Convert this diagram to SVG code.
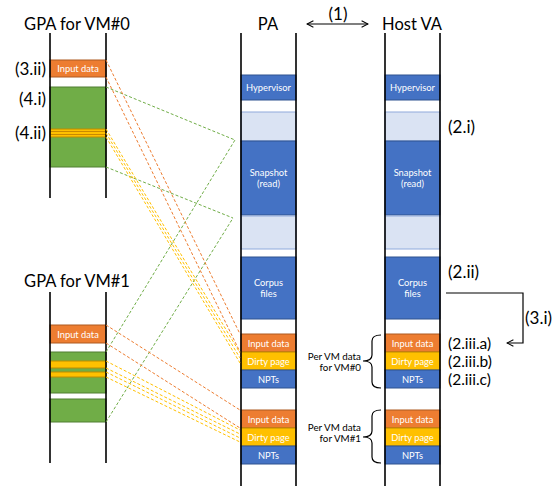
<svg xmlns="http://www.w3.org/2000/svg" width="559" height="486" viewBox="0 0 559 486">
<style>
text{font-family:Lato,"Liberation Sans",sans-serif;}
.t{font-size:16.5px;fill:#000;}
.lb{font-size:17px;fill:#000;}
.lc{font-size:15.5px;fill:#000;}
.bx{font-size:9.3px;fill:#fff;text-anchor:middle;}
.sm{font-size:9.8px;fill:#000;text-anchor:end;}
.col{stroke:#000;stroke-width:1.6;fill:none;}
.blue{fill:#4472C4;stroke:#2F528F;stroke-width:1;}
.light{fill:#DAE3F3;stroke:#8FAADC;stroke-width:1;}
.org{fill:#ED7D31;stroke:#AE5A21;stroke-width:1;}
.yel{fill:#FFC000;stroke:#BC8C00;stroke-width:1;}
.grn{fill:#70AD47;stroke:#507E32;stroke-width:1;}
.d{fill:none;stroke-width:1;stroke-dasharray:3,2;}
.dg{stroke:#70AD47;}
.do{stroke:#ED7D31;}
.dy{stroke:#FFC000;}
.ln{fill:none;stroke:#000;stroke-width:1.2;}
</style>
<defs>
<marker id="ah" viewBox="0 0 10 10" refX="9" refY="5" markerWidth="8" markerHeight="8" orient="auto-start-reverse" markerUnits="userSpaceOnUse">
<path d="M1,1 L9,5 L1,9" fill="none" stroke="#000" stroke-width="1.3"/>
</marker>
</defs>
<rect width="559" height="486" fill="#fff"/>

<g id="gpa0">
<text class="t" x="77" y="30" text-anchor="middle">GPA for VM#0</text>
<rect class="org" x="50" y="60" width="56" height="17"/>
<text class="bx" x="78" y="71.5">Input data</text>
<rect class="grn" x="50" y="87" width="56" height="80"/>
<rect class="yel" x="50" y="129" width="56" height="8"/>
<line x1="50" y1="131.5" x2="106" y2="131.5" stroke="#C98A00" stroke-width="1"/>
<line x1="50" y1="134.5" x2="106" y2="134.5" stroke="#C98A00" stroke-width="1"/>
<line class="col" x1="50" y1="33" x2="50" y2="198"/>
<line class="col" x1="106" y1="33" x2="106" y2="198"/>
<text class="lb" x="46" y="75" text-anchor="end">(3.ii)</text>
<text class="lb" x="46" y="105" text-anchor="end">(4.i)</text>
<text class="lb" x="46" y="139" text-anchor="end">(4.ii)</text>
</g>

<g id="gpa1">
<text class="t" x="77" y="287" text-anchor="middle">GPA for VM#1</text>
<rect class="org" x="50" y="325" width="56" height="18"/>
<text class="bx" x="78" y="337.5">Input data</text>
<rect class="grn" x="50" y="352" width="56" height="41"/>
<rect class="yel" x="50" y="361" width="56" height="7"/>
<rect class="yel" x="50" y="372" width="56" height="5"/>
<rect class="grn" x="50" y="399" width="56" height="23"/>
<line class="col" x1="50" y1="292" x2="50" y2="463"/>
<line class="col" x1="106" y1="292" x2="106" y2="463"/>
</g>

<g id="pa">
<text class="t" x="268" y="30" text-anchor="middle">PA</text>
<rect class="blue" x="241" y="75" width="55" height="25"/>
<text class="bx" x="268.5" y="91">Hypervisor</text>
<rect class="light" x="241" y="112" width="55" height="29"/>
<rect class="blue" x="241" y="141" width="55" height="74"/>
<text class="bx" x="268.5" y="176">Snapshot</text>
<text class="bx" x="268.5" y="187">(read)</text>
<rect class="light" x="241" y="216" width="55" height="33"/>
<rect class="blue" x="241" y="257" width="55" height="62"/>
<text class="bx" x="268.5" y="286">Corpus</text>
<text class="bx" x="268.5" y="297">files</text>
<rect class="org" x="241" y="334" width="55" height="18"/>
<text class="bx" x="268.5" y="346.5">Input data</text>
<rect class="yel" x="241" y="352" width="55" height="18"/>
<text class="bx" x="268.5" y="364.5">Dirty page</text>
<rect class="blue" x="241" y="370" width="55" height="18"/>
<text class="bx" x="268.5" y="382.5">NPTs</text>
<rect class="org" x="241" y="410" width="55" height="18"/>
<text class="bx" x="268.5" y="422.5">Input data</text>
<rect class="yel" x="241" y="428" width="55" height="18"/>
<text class="bx" x="268.5" y="440.5">Dirty page</text>
<rect class="blue" x="241" y="446" width="55" height="18"/>
<text class="bx" x="268.5" y="458.5">NPTs</text>
<line class="col" x1="241" y1="33" x2="241" y2="486"/>
<line class="col" x1="296" y1="33" x2="296" y2="486"/>
</g>

<g id="hostva">
<text class="t" x="412" y="30" text-anchor="middle">Host VA</text>
<rect class="blue" x="385" y="75" width="55" height="25"/>
<text class="bx" x="412.5" y="91">Hypervisor</text>
<rect class="light" x="385" y="112" width="55" height="29"/>
<rect class="blue" x="385" y="141" width="55" height="74"/>
<text class="bx" x="412.5" y="176">Snapshot</text>
<text class="bx" x="412.5" y="187">(read)</text>
<rect class="light" x="385" y="216" width="55" height="33"/>
<rect class="blue" x="385" y="257" width="55" height="62"/>
<text class="bx" x="412.5" y="286">Corpus</text>
<text class="bx" x="412.5" y="297">files</text>
<rect class="org" x="385" y="334" width="55" height="18"/>
<text class="bx" x="412.5" y="346.5">Input data</text>
<rect class="yel" x="385" y="352" width="55" height="18"/>
<text class="bx" x="412.5" y="364.5">Dirty page</text>
<rect class="blue" x="385" y="370" width="55" height="18"/>
<text class="bx" x="412.5" y="382.5">NPTs</text>
<rect class="org" x="385" y="410" width="55" height="18"/>
<text class="bx" x="412.5" y="422.5">Input data</text>
<rect class="yel" x="385" y="428" width="55" height="18"/>
<text class="bx" x="412.5" y="440.5">Dirty page</text>
<rect class="blue" x="385" y="446" width="55" height="18"/>
<text class="bx" x="412.5" y="458.5">NPTs</text>
<line class="col" x1="385" y1="33" x2="385" y2="486"/>
<line class="col" x1="440" y1="33" x2="440" y2="486"/>
<text class="lb" x="448" y="133">(2.i)</text>
<text class="lb" x="448" y="278">(2.ii)</text>
<text class="lc" x="448" y="348.5">(2.iii.a)</text>
<text class="lc" x="448" y="366.5">(2.iii.b)</text>
<text class="lc" x="448" y="384.5">(2.iii.c)</text>
</g>

<g id="brace0">
<path class="ln" d="M381,335 Q372,335 372,341 L372,355 Q372,361 363,361 Q372,361 372,367 L372,382 Q372,388 381,388"/>
<text class="sm" x="361" y="360">Per VM data</text>
<text class="sm" x="361" y="371">for VM#0</text>
</g>
<g id="brace1">
<path class="ln" d="M381,410 Q372,410 372,416 L372,431 Q372,437 363,437 Q372,437 372,443 L372,457 Q372,463 381,463"/>
<text class="sm" x="361" y="431">Per VM data</text>
<text class="sm" x="361" y="442">for VM#1</text>
</g>

<g id="connectors">
<line class="ln" x1="307" y1="24" x2="368" y2="24" marker-start="url(#ah)" marker-end="url(#ah)"/>
<text class="lb" x="338" y="20" text-anchor="middle">(1)</text>
<polyline class="ln" points="446,293 523,293 523,343 507,343" marker-end="url(#ah)"/>
<text class="lb" x="525" y="324">(3.i)</text>

<line class="d dg" x1="106" y1="87" x2="235" y2="140"/>
<line class="d dg" x1="106" y1="167" x2="233" y2="218"/>
<line class="d dg" x1="106" y1="352" x2="235" y2="140"/>
<line class="d dg" x1="106" y1="422" x2="233" y2="218"/>

<line class="d do" x1="106" y1="60" x2="240" y2="334"/>
<line class="d do" x1="106" y1="77" x2="240" y2="352"/>
<line class="d do" x1="106" y1="325" x2="240" y2="410"/>
<line class="d do" x1="106" y1="343" x2="240" y2="428"/>

<line class="d dy" x1="106" y1="129" x2="240" y2="353"/>
<line class="d dy" x1="106" y1="133" x2="240" y2="358"/>
<line class="d dy" x1="106" y1="137" x2="240" y2="363"/>
<line class="d dy" x1="106" y1="361" x2="240" y2="430"/>
<line class="d dy" x1="106" y1="368" x2="240" y2="434"/>
<line class="d dy" x1="106" y1="372" x2="240" y2="438"/>
<line class="d dy" x1="106" y1="377" x2="240" y2="442"/>
</g>
</svg>
